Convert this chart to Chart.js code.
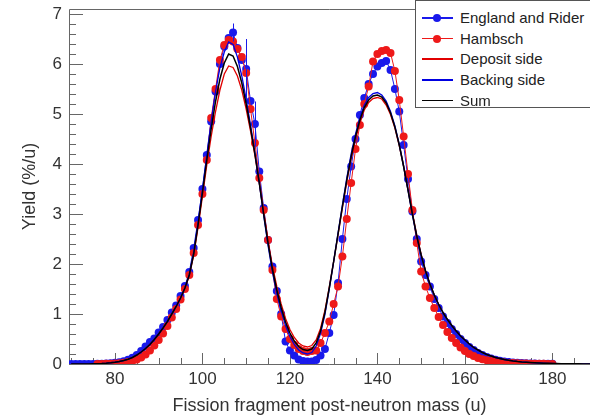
<!DOCTYPE html>
<html>
<head>
<meta charset="utf-8">
<script src="https://cdn.jsdelivr.net/npm/chart.js"></script>
<style>
    html, body { margin: 0; padding: 0; background: #fff; overflow: hidden; }
    #wrap { position: relative; width: 590px; height: 420px; overflow: hidden; }
    #yieldChart { display: block; }
    #legend {
        position: absolute; left: 415px; top: 0; width: 190px; height: 108px;
        box-sizing: border-box; border: 1px solid #555; background: #fff;
        font-family: "Liberation Sans", Arial, sans-serif; font-size: 15px; color: #222;
    }
    .row { position: absolute; left: 0; height: 20px; width: 100%; }
    .row .ln { position: absolute; left: 6px; top: 9px; width: 31px; height: 1.5px; }
    .row .dot { position: absolute; left: 17px; top: 6px; width: 8px; height: 8px; border-radius: 50%; }
    .row .txt { position: absolute; left: 44px; top: 0; line-height: 20px; white-space: nowrap; }
</style>
</head>
<body>
<div id="wrap">
    <canvas id="yieldChart" width="590" height="420"></canvas>
    <div id="legend"></div>
</div>
<script>
// Fragment mass (u), one entry per bin
const masses = [
    70, 71, 72, 73, 74, 75, 76, 77, 78, 79,
    80, 81, 82, 83, 84, 85, 86, 87, 88, 89,
    90, 91, 92, 93, 94, 95, 96, 97, 98, 99,
    100, 101, 102, 103, 104, 105, 106, 107, 108, 109,
    110, 111, 112, 113, 114, 115, 116, 117, 118, 119,
    120, 121, 122, 123, 124, 125, 126, 127, 128, 129,
    130, 131, 132, 133, 134, 135, 136, 137, 138, 139,
    140, 141, 142, 143, 144, 145, 146, 147, 148, 149,
    150, 151, 152, 153, 154, 155, 156, 157, 158, 159,
    160, 161, 162, 163, 164, 165, 166, 167, 168, 169,
    170, 171, 172, 173, 174, 175, 176, 177, 178, 179,
    180, 181, 182, 183, 184, 185, 186, 187, 188, 189
];

// England and Rider evaluation (%/u)
const englandRider = [
    0, 0, 0, 0, 0, 0.002, 0.004, 0.006, 0.01, 0.016,
    0.025, 0.037, 0.055, 0.085, 0.125, 0.18, 0.26, 0.35, 0.44, 0.51,
    0.63, 0.74, 0.88, 1.03, 1.17, 1.36, 1.56, 1.84, 2.32, 2.88,
    3.5, 4.18, 4.85, 5.45, 6.0, 6.35, 6.52, 6.63, 6.32, 6.08,
    5.9, 5.26, 4.8, 3.85, 3.12, 2.48, 1.95, 1.46, 1.0, 0.45,
    0.27, 0.17, 0.09, 0.06, 0.05, 0.05, 0.08, 0.17, 0.3, 0.62,
    0.98, 1.62, 2.5, 3.3, 3.95, 4.5, 4.98, 5.32, 5.6, 5.8,
    5.95, 6.02, 6.06, 5.88, 5.5, 5.05, 4.38, 3.7, 3.05, 2.5,
    2.05, 1.78, 1.55, 1.3, 1.12, 0.95, 0.82, 0.7, 0.6, 0.5,
    0.42, 0.34, 0.28, 0.22, 0.18, 0.14, 0.11, 0.085, 0.065, 0.05,
    0.04, 0.03, 0.023, 0.018, 0.014, 0.011, 0.008, 0.006, 0.005, 0.004,
    0.003, null, null, null, null, null, null, null, null, null
];

// visible error bars on the England and Rider points
const errMass = [107, 110, 112];
const errSize = [0.18, 0.6, 0.45];

// Hambsch measurement (%/u)
const hambsch = [
    null, null, null, null, null, null, 0.001, 0.002, 0.004, 0.007,
    0.011, 0.017, 0.026, 0.04, 0.06, 0.09, 0.13, 0.19, 0.27, 0.37,
    0.48, 0.61, 0.76, 0.93, 1.1, 1.29, 1.5, 1.78, 2.22, 2.78,
    3.4, 4.08, 4.92, 5.5, 6.08, 6.38, 6.48, 6.45, 6.3, 6.14,
    5.82, 5.1, 4.42, 3.72, 3.08, 2.48, 1.88, 1.3, 0.95, 0.7,
    0.5, 0.38, 0.3, 0.26, 0.24, 0.26, 0.27, 0.42, 0.62, 0.85,
    1.2, 1.55, 2.15, 2.9, 3.62, 4.3, 4.78, 5.2, 5.55, 6.05,
    6.2, 6.26, 6.28, 6.22, 5.86, 5.28, 4.55, 3.8, 3.08, 2.42,
    1.85, 1.55, 1.32, 1.12, 0.94, 0.78, 0.64, 0.52, 0.42, 0.33,
    0.26, 0.2, 0.16, 0.12, 0.095, 0.075, 0.058, 0.046, 0.036, 0.028,
    0.022, 0.018, 0.014, 0.011, 0.009, 0.007, 0.005, 0.004, 0.003, 0.002,
    0.001, null, null, null, null, null, null, null, null, null
];

// This work: deposit side, backing side and their sum (%/u)
const depositSide = [
    0, 0, 0, 0, 0.002, 0.004, 0.007, 0.011, 0.017, 0.025,
    0.035, 0.05, 0.07, 0.095, 0.13, 0.18, 0.24, 0.31, 0.39, 0.49,
    0.6, 0.72, 0.85, 1.0, 1.15, 1.32, 1.52, 1.77, 2.17, 2.73,
    3.35, 3.98, 4.55, 5.05, 5.48, 5.8, 5.96, 5.93, 5.76, 5.48,
    5.1, 4.66, 4.17, 3.62, 3.03, 2.47, 1.96, 1.55, 1.2, 0.91,
    0.69, 0.53, 0.42, 0.36, 0.34, 0.37, 0.48, 0.71, 1.07, 1.54,
    2.05, 2.58, 3.12, 3.64, 4.1, 4.5, 4.83, 5.08, 5.23, 5.31,
    5.33, 5.3, 5.18, 4.99, 4.72, 4.37, 3.95, 3.49, 3.02, 2.58,
    2.19, 1.87, 1.6, 1.38, 1.19, 1.03, 0.89, 0.77, 0.66, 0.56,
    0.48, 0.4, 0.33, 0.28, 0.23, 0.19, 0.16, 0.13, 0.11, 0.09,
    0.075, 0.062, 0.051, 0.042, 0.035, 0.029, 0.024, 0.02, 0.016, 0.013,
    0.011, 0.009, 0.007, 0.006, 0.005, 0.004, 0.003, 0.002, 0.002, 0.001
];

const backingSide = [
    0, 0, 0, 0, 0.002, 0.004, 0.007, 0.011, 0.017, 0.025,
    0.035, 0.05, 0.07, 0.095, 0.13, 0.18, 0.24, 0.31, 0.39, 0.49,
    0.6, 0.72, 0.85, 1.0, 1.15, 1.32, 1.52, 1.79, 2.23, 2.83,
    3.49, 4.18, 4.85, 5.45, 5.92, 6.24, 6.44, 6.39, 6.14, 5.76,
    5.3, 4.78, 4.23, 3.62, 2.97, 2.37, 1.84, 1.41, 1.06, 0.77,
    0.55, 0.39, 0.28, 0.22, 0.2, 0.23, 0.36, 0.61, 0.99, 1.5,
    2.05, 2.62, 3.18, 3.72, 4.2, 4.6, 4.93, 5.18, 5.33, 5.41,
    5.43, 5.38, 5.26, 5.05, 4.76, 4.39, 3.95, 3.47, 2.98, 2.54,
    2.17, 1.85, 1.6, 1.38, 1.19, 1.03, 0.89, 0.77, 0.66, 0.56,
    0.48, 0.4, 0.33, 0.28, 0.23, 0.19, 0.16, 0.13, 0.11, 0.09,
    0.075, 0.062, 0.051, 0.042, 0.035, 0.029, 0.024, 0.02, 0.016, 0.013,
    0.011, 0.009, 0.007, 0.006, 0.005, 0.004, 0.003, 0.002, 0.002, 0.001
];

const sumYield = [
    0, 0, 0, 0, 0.002, 0.004, 0.007, 0.011, 0.017, 0.025,
    0.035, 0.05, 0.07, 0.095, 0.13, 0.18, 0.24, 0.31, 0.39, 0.49,
    0.6, 0.72, 0.85, 1.0, 1.15, 1.32, 1.52, 1.78, 2.2, 2.78,
    3.42, 4.08, 4.7, 5.25, 5.7, 6.02, 6.2, 6.16, 5.95, 5.62,
    5.2, 4.72, 4.2, 3.62, 3.0, 2.42, 1.9, 1.48, 1.13, 0.84,
    0.62, 0.46, 0.35, 0.29, 0.27, 0.3, 0.42, 0.66, 1.03, 1.52,
    2.05, 2.6, 3.15, 3.68, 4.15, 4.55, 4.88, 5.13, 5.28, 5.36,
    5.38, 5.34, 5.22, 5.02, 4.74, 4.38, 3.95, 3.48, 3.0, 2.56,
    2.18, 1.86, 1.6, 1.38, 1.19, 1.03, 0.89, 0.77, 0.66, 0.56,
    0.48, 0.4, 0.33, 0.28, 0.23, 0.19, 0.16, 0.13, 0.11, 0.09,
    0.075, 0.062, 0.051, 0.042, 0.035, 0.029, 0.024, 0.02, 0.016, 0.013,
    0.011, 0.009, 0.007, 0.006, 0.005, 0.004, 0.003, 0.002, 0.002, 0.001
];

const xLabels = [80, 100, 120, 140, 160, 180];
const yLabels = [0, 1, 2, 3, 4, 5, 6, 7];

const BLUE = 'rgb(25, 25, 235)';
const RED = 'rgb(238, 25, 25)';
const FONT = '"Liberation Sans", Arial, sans-serif';

const toPoints = (values) => masses.map((m, i) => ({ x: m, y: values[i] }));

// ROOT style frame with inward tick marks
const frameTicks = {
    id: 'frameTicks',
    beforeDatasetsDraw(chart) {
        const { ctx, chartArea: a, scales: { x, y } } = chart;
        ctx.save();
        ctx.strokeStyle = '#666';
        ctx.lineWidth = 1;
        ctx.beginPath();
        // top, left and bottom edges (right edge is off the picture)
        ctx.moveTo(a.right, a.top + 0.5);
        ctx.lineTo(a.left + 0.5, a.top + 0.5);
        ctx.lineTo(a.left + 0.5, a.bottom + 0.5);
        ctx.lineTo(a.right, a.bottom + 0.5);
        for (let v = 70; v <= x.max; v += 5) {
            const px = Math.round(x.getPixelForValue(v)) + 0.5;
            const len = v % 20 === 0 ? 11 : 6;
            ctx.moveTo(px, a.bottom);
            ctx.lineTo(px, a.bottom - len);
        }
        for (let k = 0; k <= 35; k++) {
            const py = Math.round(y.getPixelForValue(k / 5)) + 0.5;
            const len = k % 5 === 0 ? 14 : 7;
            ctx.moveTo(a.left, py);
            ctx.lineTo(a.left + len, py);
        }
        ctx.stroke();
        ctx.restore();
    },
    afterDatasetsDraw(chart) {
        const { ctx, scales: { x, y } } = chart;
        ctx.save();
        ctx.strokeStyle = BLUE;
        ctx.lineWidth = 1;
        ctx.beginPath();
        errMass.forEach((m, i) => {
            const val = englandRider[masses.indexOf(m)];
            const px = Math.round(x.getPixelForValue(m)) + 0.5;
            ctx.moveTo(px, y.getPixelForValue(val - errSize[i]));
            ctx.lineTo(px, y.getPixelForValue(val + errSize[i]));
        });
        ctx.stroke();
        ctx.restore();
    }
};

const datasets = [
    { label: 'England and Rider', data: toPoints(englandRider), borderColor: BLUE, backgroundColor: BLUE,
      borderWidth: 1, pointRadius: 4, pointBorderWidth: 0, order: 4, marker: true },
    { label: 'Hambsch', data: toPoints(hambsch), borderColor: RED, backgroundColor: RED,
      borderWidth: 1, pointRadius: 4, pointBorderWidth: 0, order: 3, marker: true },
    { label: 'Deposit side', data: toPoints(depositSide), borderColor: 'rgb(225, 0, 0)',
      borderWidth: 1.3, pointRadius: 0, order: 2 },
    { label: 'Backing side', data: toPoints(backingSide), borderColor: 'rgb(0, 0, 225)',
      borderWidth: 1.3, pointRadius: 0, order: 1 },
    { label: 'Sum', data: toPoints(sumYield), borderColor: '#000',
      borderWidth: 1.5, pointRadius: 0, order: 0 }
];

const chart = new Chart(document.getElementById('yieldChart'), {
    type: 'line',
    data: { datasets },
    options: {
        responsive: false,
        animation: false,
        devicePixelRatio: 1,
        layout: { autoPadding: false, padding: { top: 9, right: 0, left: 0, bottom: 0 } },
        plugins: { legend: { display: false }, tooltip: { enabled: false } },
        scales: {
            x: {
                type: 'linear',
                min: 69.5,
                max: 188.6,
                afterBuildTicks: (scale) => { scale.ticks = xLabels.map(v => ({ value: v })); },
                afterFit: (scale) => { scale.height = 56; scale.paddingLeft = 0; scale.paddingRight = 0; },
                grid: { display: false, drawTicks: false, tickLength: 0 },
                border: { display: false },
                ticks: { color: '#333', padding: 5, maxRotation: 0, font: { family: FONT, size: 17 } },
                title: { display: true, text: 'Fission fragment post-neutron mass (u)', color: '#333',
                         padding: { top: 0, bottom: 3 }, font: { family: FONT, size: 18 } }
            },
            y: {
                min: 0,
                max: 7.1,
                afterBuildTicks: (scale) => { scale.ticks = yLabels.map(v => ({ value: v })); },
                afterFit: (scale) => { scale.width = 69; scale.paddingTop = 0; scale.paddingBottom = 0; },
                grid: { display: false, drawTicks: false, tickLength: 0 },
                border: { display: false },
                ticks: { color: '#333', padding: 7, font: { family: FONT, size: 17 } },
                title: { display: true, text: 'Yield (%/u)', color: '#333',
                         padding: { top: 19, bottom: 0 }, font: { family: FONT, size: 18 } }
            }
        }
    },
    plugins: [frameTicks]
});

// Legend box in the top right corner
const legend = document.getElementById('legend');
chart.data.datasets.forEach((ds, i) => {
    const row = document.createElement('div');
    row.className = 'row';
    row.style.top = (7 + i * 20.7) + 'px';
    const ln = document.createElement('span');
    ln.className = 'ln';
    ln.style.background = ds.borderColor;
    row.appendChild(ln);
    if (ds.marker) {
        const dot = document.createElement('span');
        dot.className = 'dot';
        dot.style.background = ds.backgroundColor;
        row.appendChild(dot);
    }
    const txt = document.createElement('span');
    txt.className = 'txt';
    txt.textContent = ds.label;
    row.appendChild(txt);
    legend.appendChild(row);
});
</script>
</body>
</html>
